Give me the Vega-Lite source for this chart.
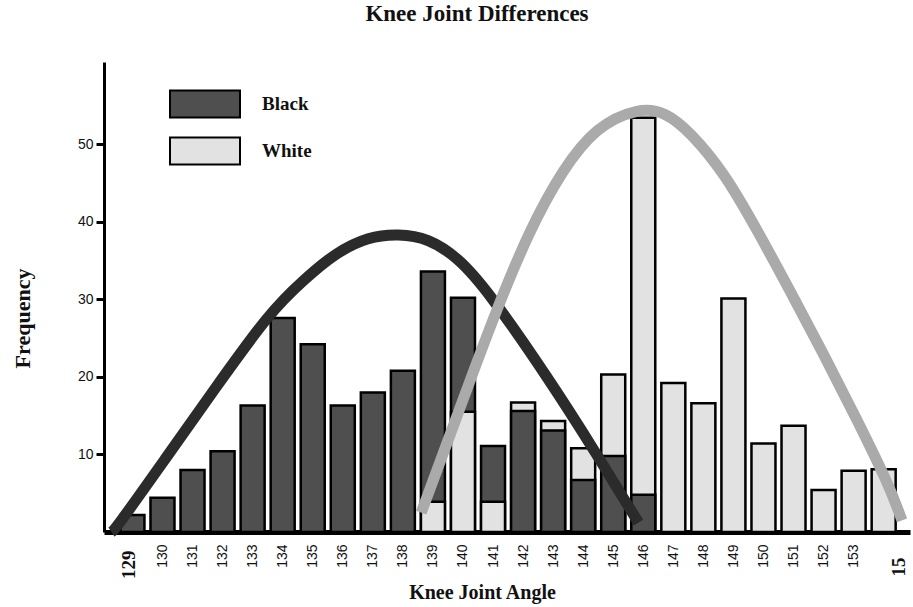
{
  "$schema": "https://vega.github.io/schema/vega-lite/v6.json",
  "width": 806,
  "height": 470,
  "autosize": {"type": "none"},
  "padding": {"left": 104, "top": 62, "right": 3, "bottom": 75},
  "background": "white",
  "config": {"view": {"stroke": null}, "axis": {"labelOverlap": false}},
  "title": {
    "text": "Knee Joint Differences",
    "font": "Liberation Serif",
    "fontSize": 23,
    "fontWeight": "bold",
    "color": "#111111",
    "anchor": "middle",
    "frame": "group",
    "dx": -30,
    "offset": 36
  },
  "datasets": {
    "bars": [
      {"angle": 129, "group": "Black", "frequency": 2.2},
      {"angle": 130, "group": "Black", "frequency": 4.4},
      {"angle": 131, "group": "Black", "frequency": 8.0},
      {"angle": 132, "group": "Black", "frequency": 10.4},
      {"angle": 133, "group": "Black", "frequency": 16.3},
      {"angle": 134, "group": "Black", "frequency": 27.6},
      {"angle": 135, "group": "Black", "frequency": 24.2},
      {"angle": 136, "group": "Black", "frequency": 16.3},
      {"angle": 137, "group": "Black", "frequency": 18.0},
      {"angle": 138, "group": "Black", "frequency": 20.8},
      {"angle": 139, "group": "Black", "frequency": 33.6},
      {"angle": 140, "group": "Black", "frequency": 30.2},
      {"angle": 141, "group": "Black", "frequency": 11.1},
      {"angle": 142, "group": "Black", "frequency": 15.6},
      {"angle": 143, "group": "Black", "frequency": 13.1},
      {"angle": 144, "group": "Black", "frequency": 6.7},
      {"angle": 145, "group": "Black", "frequency": 9.8},
      {"angle": 146, "group": "Black", "frequency": 4.8},
      {"angle": 139, "group": "White", "frequency": 3.9},
      {"angle": 140, "group": "White", "frequency": 15.5},
      {"angle": 141, "group": "White", "frequency": 3.9},
      {"angle": 142, "group": "White", "frequency": 16.7},
      {"angle": 143, "group": "White", "frequency": 14.3},
      {"angle": 144, "group": "White", "frequency": 10.8},
      {"angle": 145, "group": "White", "frequency": 20.3},
      {"angle": 146, "group": "White", "frequency": 53.4},
      {"angle": 147, "group": "White", "frequency": 19.2},
      {"angle": 148, "group": "White", "frequency": 16.6},
      {"angle": 149, "group": "White", "frequency": 30.1},
      {"angle": 150, "group": "White", "frequency": 11.4},
      {"angle": 151, "group": "White", "frequency": 13.7},
      {"angle": 152, "group": "White", "frequency": 5.4},
      {"angle": 153, "group": "White", "frequency": 7.9},
      {"angle": 154, "group": "White", "frequency": 8.1}
    ],
    "blackCurve": [
      {"angle": 128.3, "frequency": 0.0},
      {"angle": 128.42, "frequency": 0.3},
      {"angle": 130.07, "frequency": 9.3},
      {"angle": 131.71, "frequency": 18.3},
      {"angle": 133.58, "frequency": 28.4},
      {"angle": 134.67, "frequency": 32.4},
      {"angle": 135.75, "frequency": 36.0},
      {"angle": 136.87, "frequency": 38.1},
      {"angle": 137.85, "frequency": 38.45},
      {"angle": 138.84, "frequency": 37.9},
      {"angle": 139.83, "frequency": 35.4},
      {"angle": 140.81, "frequency": 31.2},
      {"angle": 142.88, "frequency": 19.6},
      {"angle": 144.36, "frequency": 10.6},
      {"angle": 145.84, "frequency": 1.2}
    ],
    "whiteCurve": [
      {"angle": 138.61, "frequency": 2.5},
      {"angle": 139.76, "frequency": 14.5},
      {"angle": 141.01, "frequency": 27.7},
      {"angle": 142.22, "frequency": 39.0},
      {"angle": 143.31, "frequency": 46.7},
      {"angle": 144.43, "frequency": 52.3},
      {"angle": 145.84, "frequency": 54.7},
      {"angle": 146.73, "frequency": 54.2},
      {"angle": 147.58, "frequency": 51.5},
      {"angle": 148.7, "frequency": 46.3},
      {"angle": 149.78, "frequency": 39.0},
      {"angle": 150.87, "frequency": 31.2},
      {"angle": 151.98, "frequency": 23.1},
      {"angle": 153.07, "frequency": 14.8},
      {"angle": 154.15, "frequency": 6.3},
      {"angle": 154.61, "frequency": 1.5}
    ]
  },
  "encoding": {
    "x": {
      "field": "angle",
      "type": "quantitative",
      "scale": {"domain": [128.22, 154.71], "nice": false, "zero": false},
      "axis": {
        "values": [129,130,131,132,133,134,135,136,137,138,139,140,141,142,143,144,145,146,147,148,149,150,151,152,153,154],
        "labelExpr": "datum.value == 154 ? '15' : datum.label",
        "labelAngle": -90,
        "labelAlign": "right",
        "labelBaseline": "middle",
        "ticks": false,
        "grid": false,
        "domainColor": "black",
        "domainWidth": 5,
        "labelColor": "#111111",
        "labelFont": {"condition": {"test": "datum.value == 129 || datum.value == 154", "value": "Liberation Serif"}, "value": "Liberation Sans"},
        "labelFontWeight": {"condition": {"test": "datum.value == 129 || datum.value == 154", "value": "bold"}, "value": "normal"},
        "labelFontSize": {"condition": {"test": "datum.value == 129 || datum.value == 154", "value": 19}, "value": 14},
        "labelPadding": {"condition": [{"test": "datum.value == 129", "value": 18}, {"test": "datum.value == 154", "value": 25}], "value": 12},
        "labelOffset": {"condition": [{"test": "datum.value == 154", "value": 15}, {"test": "datum.value == 129", "value": -4}], "value": 0},
        "labelOverlap": false,
        "labelFlush": false,
        "labelBound": false,
        "title": "Knee Joint Angle",
        "titleFont": "Liberation Serif",
        "titleFontSize": 20,
        "titleFontWeight": "bold",
        "titleColor": "#111111",
        "titleAlign": "center",
        "titleBaseline": "alphabetic",
        "titleAnchor": null,
        "titleX": 378,
        "titleY": 66
      }
    },
    "y": {
      "field": "frequency",
      "type": "quantitative",
      "stack": null,
      "scale": {"domain": [0, 60.6], "nice": false},
      "axis": {
        "values": [10, 20, 30, 40, 50],
        "grid": false,
        "domainColor": "black",
        "domainWidth": 3,
        "tickColor": "black",
        "tickWidth": 3,
        "tickSize": 8,
        "labelFont": "Liberation Sans",
        "labelFontSize": 14,
        "labelColor": "#111111",
        "labelPadding": 3,
        "title": "Frequency",
        "titleFont": "Liberation Serif",
        "titleFontSize": 22,
        "titleFontWeight": "bold",
        "titleColor": "#111111",
        "titleAngle": 270,
        "titleAlign": "center",
        "titleBaseline": "alphabetic",
        "titleAnchor": null,
        "titleX": -75,
        "titleY": 256
      }
    }
  },
  "layer": [
    {
      "data": {"name": "bars"},
      "mark": {"type": "bar", "width": 24, "stroke": "black", "strokeWidth": 2.5, "opacity": 1},
      "encoding": {
        "color": {
          "field": "group",
          "type": "nominal",
          "scale": {"domain": ["Black", "White"], "range": ["#4f4f4f", "#e2e2e2"]},
          "legend": {
            "orient": "none",
            "legendX": 86,
            "legendY": 27,
            "title": null,
            "padding": 0,
            "symbolType": "M-2.5,-0.96H2.5V0.96H-2.5Z",
            "symbolSize": 784,
            "symbolStrokeColor": "black",
            "symbolStrokeWidth": 2,
            "symbolOpacity": 1,
            "symbolOffset": 0,
            "labelFont": "Liberation Serif",
            "labelFontSize": 19,
            "labelFontWeight": "bold",
            "labelColor": "#111111",
            "labelOffset": 42,
            "rowPadding": 11
          }
        },
        "order": {"field": "frequency", "type": "quantitative", "sort": "descending"}
      }
    },
    {
      "data": {"name": "blackCurve"},
      "mark": {"type": "line", "interpolate": "basis", "strokeWidth": 11, "strokeCap": "butt", "color": "#2b2b2b"}
    },
    {
      "data": {"name": "whiteCurve"},
      "mark": {"type": "line", "interpolate": "basis", "strokeWidth": 11, "strokeCap": "butt", "color": "#aaaaaa"}
    }
  ]
}
